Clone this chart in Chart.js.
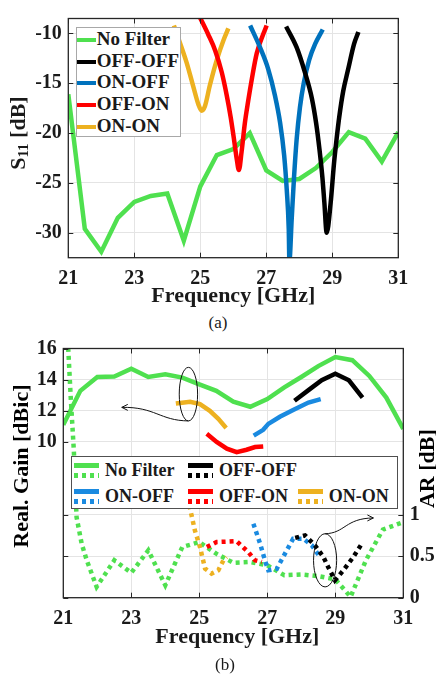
<!DOCTYPE html>
<html>
<head>
<meta charset="utf-8">
<script src="https://cdn.jsdelivr.net/npm/chart.js@4.4.1/dist/chart.umd.min.js"></script>
<style>
  body { margin: 0; width: 436px; height: 678px; background: #fff; position: relative; overflow: hidden;
         font-family: "Liberation Serif", "Times New Roman", serif; color: #1a1a1a; }
  .box { position: absolute; left: 0; width: 436px; }
  #boxA { top: 0; height: 310px; }
  #boxB { top: 330px; height: 348px; }
  .leg { position: absolute; background: #fff; box-sizing: border-box; font-weight: bold; }
  .row { position: absolute; height: 22px; line-height: 22px; white-space: nowrap; }
  .swatch { position: absolute; height: 4.5px; }
  .cap { position: absolute; width: 40px; text-align: center; font-size: 17px; line-height: 20px; }
</style>
</head>
<body>
<div class="box" id="boxA"><canvas id="chartA" width="436" height="310"></canvas>
  <div class="leg" id="legA" style="left:75.7px;top:26.7px;width:105.3px;height:110px;border:1px solid #a8a8a8;font-size:19px"></div>
</div>
<div class="cap" style="left:198px;top:313px">(a)</div>
<div class="box" id="boxB"><canvas id="chartB" width="436" height="348"></canvas>
  <div class="leg" id="legB" style="left:71px;top:125.7px;width:326.7px;height:53.3px;border:1px solid #505050;font-size:18px"></div>
</div>
<div class="cap" style="left:205px;top:655px">(b)</div>

<script>
// Farby i czcionka
const FONT = '"Liberation Serif", "Times New Roman", serif';
const GREEN = '#4fe04f';
const BLACK = '#000000';
const BLUE = '#0072bd';
const BLUE_B = '#1a8ae0';
const RED = '#ff0000';
const ORANGE = '#edb120';

const seriesNames = ['No Filter', 'OFF-OFF', 'ON-OFF', 'OFF-ON', 'ON-ON'];

// ---- (a) S11 ----
const freqTicksA = [21, 23, 25, 27, 29, 31];
const s11Ticks = [-30, -25, -20, -15, -10];

const freqNoFilter = [21, 21.5, 22, 22.5, 23, 23.5, 24, 24.5, 25, 25.5, 26, 26.5, 27, 27.5, 28, 28.5, 29, 29.5, 30, 30.5, 31];
const s11NoFilter = [-16.1, -29.6, -31.9, -28.5, -26.9, -26.3, -26.05, -30.8, -25.35, -22.2, -21.6, -20.0, -23.75, -24.8, -24.6, -23.5, -21.9, -19.9, -20.55, -22.85, -19.9];

const freqOffOff = [27.60, 27.92, 28.17, 28.38, 28.51, 28.61, 28.70, 28.76, 28.83, 28.95, 29.05, 29.13, 29.21, 29.33, 29.48, 29.66, 29.79];
const s11OffOff = [-9.3, -11.4, -13.9, -16.5, -19.0, -21.6, -24.45, -27.0, -30.0, -27.0, -23.1, -20.6, -18.4, -15.8, -13.6, -11.05, -9.85];

const freqOnOff = [26.51, 26.81, 27.06, 27.26, 27.42, 27.54, 27.62, 27.68, 27.70, 27.77, 27.84, 27.92, 28.02, 28.14, 28.30, 28.48, 28.71];
const s11OnOff = [-9.2, -11.4, -13.6, -16.2, -19.0, -22.2, -25.7, -29.6, -32.8, -28.6, -24.45, -20.6, -17.4, -14.9, -12.65, -11.05, -9.6];

const freqOffOn = [24.99, 25.24, 25.45, 25.65, 25.80, 25.92, 26.02, 26.10, 26.17, 26.25, 26.35, 26.45, 26.56, 26.71, 27.01];
const s11OffOn = [-8.4, -10.1, -11.7, -13.9, -16.2, -18.4, -20.6, -22.5, -23.7, -21.9, -19.0, -16.8, -14.6, -12.0, -9.2];

const freqOnOn = [24.20, 24.38, 24.59, 24.79, 24.94, 25.04, 25.14, 25.29, 25.50, 25.70, 25.85];
const s11OnOn = [-9.2, -10.9, -12.97, -15.36, -17.1, -17.75, -17.3, -15.2, -12.65, -10.7, -9.5];

// ---- (b) gain + AR ----
const freqTicksB = [21, 23, 25, 27, 29, 31];
const gainTicks = [10, 12, 14, 16];
const arTicks = [0, 0.5, 1];

const gainNoFilter = [11.1, 13.28, 14.17, 14.2, 14.7, 14.17, 14.34, 14.13, 13.7, 13.28, 12.58, 12.26, 12.75, 13.5, 14.17, 14.87, 15.45, 15.25, 14.24, 12.85, 10.84];

const freqGainOffOff = [27.8, 28.25, 28.6, 29.0, 29.4, 29.8];
const gainOffOff = [12.64, 13.39, 13.96, 14.38, 13.96, 12.85];
const freqGainOnOff = [26.6, 26.88, 27.03, 27.37, 27.76, 28.21, 28.57];
const gainOnOff = [10.41, 10.78, 11.16, 11.62, 12.05, 12.53, 12.75];
const freqGainOffOn = [25.22, 25.51, 25.81, 26.1, 26.39, 26.64, 26.88];
const gainOffOn = [10.52, 10.0, 9.57, 9.35, 9.5, 9.67, 9.71];
const freqGainOnOn = [24.31, 24.73, 25.02, 25.31, 25.56, 25.79];
const gainOnOn = [12.47, 12.58, 12.43, 12.0, 11.48, 10.9];

const freqArNoFilter = [21.12, 21.22, 21.31, 21.39, 21.54, 21.69, 21.98, 22.5, 23, 23.5, 24, 24.5, 25, 25.5, 26, 26.5, 27, 27.5, 28, 28.5, 29, 29.45, 29.9, 30.4, 31];
const arNoFilter = [3.2, 2.4, 1.77, 0.97, 0.65, 0.45, 0.13, 0.45, 0.3, 0.57, 0.15, 0.61, 0.67, 0.53, 0.42, 0.43, 0.39, 0.27, 0.28, 0.26, 0.22, 0.01, 0.45, 0.82, 0.91];
const freqArOffOff = [27.82, 28.11, 28.4, 28.65, 28.79, 28.99, 29.24, 29.53, 29.78];
const arOffOff = [0.72, 0.75, 0.63, 0.49, 0.37, 0.21, 0.33, 0.49, 0.65];
const freqArOnOff = [26.59, 26.79, 26.93, 27.03, 27.28, 27.52, 27.76, 28.06, 28.31, 28.55];
const arOnOff = [0.89, 0.65, 0.45, 0.33, 0.35, 0.53, 0.71, 0.71, 0.63, 0.49];
const freqArOffOn = [25.22, 25.51, 26.1, 26.44, 26.64, 26.84];
const arOffOn = [0.61, 0.67, 0.68, 0.55, 0.45, 0.43];
const freqArOnOn = [24.65, 24.73, 24.87, 25.02, 25.17, 25.36, 25.56, 25.71, 25.8];
const arOnOn = [1.4, 1.07, 0.81, 0.61, 0.35, 0.29, 0.33, 0.45, 0.49];

function pts(xs, ys) {
    return xs.map((x, i) => ({ x: x, y: ys[i] }));
}

function lineSet(label, xs, ys, color, extra) {
    return Object.assign({
        label: label,
        data: pts(xs, ys),
        borderColor: color,
        borderWidth: 4.5,
        pointRadius: 0,
        fill: false,
        clip: 0,
        tension: 0
    }, extra || {});
}

const tickFont = { family: FONT, size: 20, weight: 'bold' };
const gridStyle = { color: '#e4e4e4', lineWidth: 1, drawTicks: false };

function fixTicks(values) {
    return (scale) => { scale.ticks = values.map(v => ({ value: v })); };
}

// Ramka + znaczniki skierowane do środka
function drawFrame(chart, pairs) {
    const { ctx, chartArea: a } = chart;
    const L = 5;
    ctx.save();
    ctx.strokeStyle = '#262626';
    ctx.lineWidth = 1;
    ctx.beginPath();
    const xs = chart.scales.x;
    xs.ticks.forEach(t => {
        const p = Math.round(xs.getPixelForValue(t.value)) + 0.5;
        ctx.moveTo(p, a.bottom); ctx.lineTo(p, a.bottom - L);
        ctx.moveTo(p, a.top); ctx.lineTo(p, a.top + L);
    });
    pairs.forEach(([id, left, right]) => {
        const s = chart.scales[id];
        s.ticks.forEach(t => {
            const p = Math.round(s.getPixelForValue(t.value)) + 0.5;
            if (left) { ctx.moveTo(a.left, p); ctx.lineTo(a.left + L, p); }
            if (right) { ctx.moveTo(a.right, p); ctx.lineTo(a.right - L, p); }
        });
    });
    ctx.stroke();
    ctx.lineWidth = 1.3;
    ctx.strokeRect(a.left, a.top, a.right - a.left, a.bottom - a.top);
    ctx.restore();
}

function vText(ctx, text, x, y, size) {
    ctx.save();
    ctx.translate(x, y);
    ctx.rotate(-Math.PI / 2);
    ctx.font = 'bold ' + size + 'px ' + FONT;
    ctx.textAlign = 'center';
    ctx.textBaseline = 'alphabetic';
    ctx.fillText(text, 0, 0);
    ctx.restore();
}

const framePluginA = {
    id: 'frameA',
    afterDatasetsDraw(chart) {
        drawFrame(chart, [['y', true, true]]);
        const { ctx, chartArea: a } = chart;
        ctx.save();
        ctx.fillStyle = '#1a1a1a';
        ctx.font = 'bold 22px ' + FONT;
        ctx.textAlign = 'center';
        ctx.fillText('Frequency [GHz]', (a.left + a.right) / 2, a.bottom + 44);
        // S11 [dB] z indeksem dolnym
        ctx.translate(25, (a.top + a.bottom) / 2 - 5);
        ctx.rotate(-Math.PI / 2);
        ctx.textAlign = 'left';
        const big = 'bold 22px ' + FONT, small = 'bold 15px ' + FONT;
        ctx.font = big; const wS = ctx.measureText('S').width; const wRest = ctx.measureText(' [dB]').width;
        ctx.font = small; const wSub = ctx.measureText('11').width;
        let x0 = -(wS + wSub + wRest) / 2;
        ctx.font = big; ctx.fillText('S', x0, 0); x0 += wS;
        ctx.font = small; ctx.fillText('11', x0, 3); x0 += wSub;
        ctx.font = big; ctx.fillText(' [dB]', x0, 0);
        ctx.restore();
    }
};

function arrowHead(ctx, x, y, dir) {
    ctx.beginPath();
    ctx.moveTo(x - dir * 6, y - 3);
    ctx.lineTo(x, y);
    ctx.lineTo(x - dir * 6, y + 3);
    ctx.stroke();
}

const framePluginB = {
    id: 'frameB',
    afterDatasetsDraw(chart) {
        drawFrame(chart, [['y', true, false], ['y1', true, true]]);
        const { ctx, chartArea: a, scales } = chart;
        const X = v => scales.x.getPixelForValue(v);
        const G = v => scales.y.getPixelForValue(v);
        const R = v => scales.y1.getPixelForValue(v);
        ctx.save();
        ctx.strokeStyle = '#111';
        ctx.lineWidth = 1;
        // elipsa + strzałka do osi zysku
        ctx.beginPath();
        ctx.ellipse(X(24.68), G(13.07), X(24.95) - X(24.68), G(13.07) - G(14.79), 0, 0, 2 * Math.PI);
        ctx.stroke();
        ctx.beginPath();
        ctx.moveTo(X(24.68), G(11.35));
        ctx.bezierCurveTo(X(23.84), G(11.37), X(23.70), G(12.26), X(22.72), G(12.22));
        ctx.stroke();
        arrowHead(ctx, X(22.72), G(12.22), -1);
        // elipsa + strzałka do osi AR
        ctx.beginPath();
        ctx.ellipse(X(28.7), R(0.45), X(29.04) - X(28.7), R(0.45) - R(0.77), 0, 0, 2 * Math.PI);
        ctx.stroke();
        ctx.beginPath();
        ctx.moveTo(X(28.7), R(0.77));
        ctx.bezierCurveTo(X(29.29), R(0.776), X(29.29), R(0.956), X(30.12), R(0.96));
        ctx.stroke();
        arrowHead(ctx, X(30.12), R(0.96), 1);

        ctx.fillStyle = '#1a1a1a';
        ctx.font = 'bold 22px ' + FONT;
        ctx.textAlign = 'center';
        ctx.fillText('Frequency [GHz]', (a.left + a.right) / 2 + 4, a.bottom + 45);
        ctx.restore();
        vText(ctx, 'Real. Gain [dBic]', 28, (a.top + a.bottom) / 2 - 7, 22);
        vText(ctx, 'AR [dB]', 434, (a.top + a.bottom) / 2 - 4.5, 22);
    }
};

// Wykres (a)
new Chart(document.getElementById('chartA'), {
    type: 'line',
    data: {
        datasets: [
            lineSet(seriesNames[1], freqOffOff, s11OffOff, BLACK, { cubicInterpolationMode: 'monotone' }),
            lineSet(seriesNames[2], freqOnOff, s11OnOff, BLUE, { cubicInterpolationMode: 'monotone' }),
            lineSet(seriesNames[3], freqOffOn, s11OffOn, RED, { cubicInterpolationMode: 'monotone' }),
            lineSet(seriesNames[4], freqOnOn, s11OnOn, ORANGE, { cubicInterpolationMode: 'monotone' }),
            lineSet(seriesNames[0], freqNoFilter, s11NoFilter, GREEN)
        ]
    },
    options: {
        responsive: false,
        animation: false,
        layout: { padding: { top: 7.3, right: 37.7, left: 0, bottom: 0 } },
        plugins: { legend: { display: false }, tooltip: { enabled: false } },
        scales: {
            x: {
                type: 'linear', min: 21, max: 31,
                afterBuildTicks: fixTicks(freqTicksA),
                afterFit: (s) => { s.height = 52.3; },
                grid: gridStyle, border: { display: false },
                ticks: { font: tickFont, color: '#1a1a1a', padding: 9, maxRotation: 0, autoSkip: false }
            },
            y: {
                min: -32.5, max: -8.5,
                afterBuildTicks: fixTicks(s11Ticks),
                afterFit: (s) => { s.width = 68.3; },
                grid: gridStyle, border: { display: false },
                ticks: { font: tickFont, color: '#1a1a1a', padding: 6.5 }
            }
        }
    },
    plugins: [framePluginA]
});

// Wykres (b)
const dotted = { borderDash: [4, 4], borderCapStyle: 'butt', yAxisID: 'y1' };
new Chart(document.getElementById('chartB'), {
    type: 'line',
    data: {
        datasets: [
            lineSet(seriesNames[1], freqGainOffOff, gainOffOff, BLACK, { yAxisID: 'y' }),
            lineSet(seriesNames[2], freqGainOnOff, gainOnOff, BLUE_B, { yAxisID: 'y' }),
            lineSet(seriesNames[3], freqGainOffOn, gainOffOn, RED, { yAxisID: 'y' }),
            lineSet(seriesNames[4], freqGainOnOn, gainOnOn, ORANGE, { yAxisID: 'y' }),
            lineSet(seriesNames[0], freqNoFilter, gainNoFilter, GREEN, { yAxisID: 'y' }),
            lineSet(seriesNames[1], freqArOffOff, arOffOff, BLACK, dotted),
            lineSet(seriesNames[2], freqArOnOff, arOnOff, BLUE_B, dotted),
            lineSet(seriesNames[3], freqArOffOn, arOffOn, RED, dotted),
            lineSet(seriesNames[4], freqArOnOn, arOnOn, ORANGE, dotted),
            lineSet(seriesNames[0], freqArNoFilter, arNoFilter, GREEN, dotted)
        ]
    },
    options: {
        responsive: false,
        animation: false,
        layout: { padding: { top: 16.7, right: 0, left: 0, bottom: 0 } },
        plugins: { legend: { display: false }, tooltip: { enabled: false } },
        scales: {
            x: {
                type: 'linear', min: 21, max: 31,
                afterBuildTicks: fixTicks(freqTicksB),
                afterFit: (s) => { s.height = 80.3; },
                grid: gridStyle, border: { display: false },
                ticks: { font: tickFont, color: '#1a1a1a', padding: 9, maxRotation: 0, autoSkip: false }
            },
            y: {
                position: 'left', min: 0, max: 16,
                afterBuildTicks: fixTicks(gainTicks),
                afterFit: (s) => { s.width = 63.3; },
                grid: gridStyle, border: { display: false },
                ticks: { font: tickFont, color: '#1a1a1a', padding: 6.5 }
            },
            y1: {
                position: 'right', min: 0, max: 3,
                afterBuildTicks: fixTicks(arTicks),
                afterFit: (s) => { s.width = 32.7; },
                grid: gridStyle, border: { display: false },
                ticks: { font: tickFont, color: '#1a1a1a', padding: 6.5, callback: v => String(v) }
            }
        }
    },
    plugins: [framePluginB]
});

// Legendy HTML
const colorsA = [GREEN, BLACK, BLUE, RED, ORANGE];
const rowTopsA = [12.3, 34.3, 55.6, 77.3, 99.3];
const legA = document.getElementById('legA');
seriesNames.forEach((name, i) => {
    const row = document.createElement('div');
    row.className = 'row';
    row.style.left = '0px';
    row.style.top = (rowTopsA[i] - 12) + 'px';
    row.innerHTML = `<span class="swatch" style="left:0.3px;top:9.7px;width:19.5px;background:${colorsA[i]}"></span>` +
                    `<span style="position:absolute;left:20px;top:0">${name}</span>`;
    legA.appendChild(row);
});

const colorsB = [GREEN, BLACK, BLUE_B, RED, ORANGE];
const cellsB = [[0, 0], [1, 0], [0, 1], [1, 1], [2, 1]];
const colLeft = [2, 116, 225.7];
const rowTop = [0, 26];
const legB = document.getElementById('legB');
seriesNames.forEach((name, i) => {
    const [c, r] = cellsB[i];
    const cell = document.createElement('div');
    cell.className = 'row';
    cell.style.left = colLeft[c] + 'px';
    cell.style.top = rowTop[r] + 'px';
    cell.style.height = '28px';
    const col = colorsB[i];
    cell.innerHTML =
        `<span class="swatch" style="left:0;top:6.5px;width:25px;background:${col}"></span>` +
        `<span class="swatch" style="left:0;top:16.5px;width:25px;background:repeating-linear-gradient(90deg, ${col} 0 4px, transparent 4px 8px)"></span>` +
        `<span style="position:absolute;left:31px;top:2.5px">${name}</span>`;
    legB.appendChild(cell);
});
</script>
</body>
</html>
